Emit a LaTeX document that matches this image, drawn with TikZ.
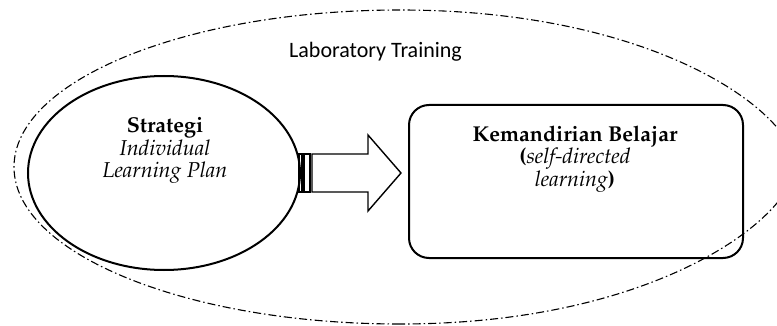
\documentclass[tikz,border=0pt]{standalone}
\usepackage{fontspec}
\usetikzlibrary{shapes.geometric}
\newfontfamily\labfont{Carlito}
\newcommand\palfont{\fontencoding{OT1}\fontfamily{ppl}\selectfont}
\tikzset{
  outerline/.style={line width=1.1pt, dash pattern=on 8pt off 3pt on 1.5pt off 3pt},
  mainline/.style={line width=2pt},
  arrowline/.style={line width=1.4pt, line join=miter},
  serif/.style={font=\palfont\fontsize{21.5}{22}\selectfont, align=center, inner sep=0pt},
}
\begin{document}
\begin{tikzpicture}[x=1pt,y=-1pt]
\useasboundingbox (0,0) rectangle (777,326);
\begin{scope}
\clip (0,0) rectangle (777,326);
\draw[outerline] (400,324) arc[start angle=90, end angle=270, x radius=386, y radius=157]
  .. controls (660,10) and (795,115) .. (795,165)
  .. controls (795,215) and (660,324) .. (400,324) -- cycle;
\end{scope}
% inner ellipse
\node[mainline, draw, ellipse, minimum width=272pt, minimum height=194pt, inner sep=0pt] (strat) at (164,173) {};
\node[serif, anchor=base] (t1) at (165,133) {\bfseries Strategi};
\node[serif, anchor=base] (t2) at (165,156) {\itshape Individual};
\node[serif, anchor=base] (t3) at (165,178) {\itshape Learning Plan};
% striped block arrow
\draw[arrowline] (299,154) rectangle (302,192);
\draw[arrowline] (304,154) rectangle (310,192);
\draw[arrowline] (312,154) -- (368,154) -- (368,135) -- (401,173) -- (368,211) -- (368,192) -- (312,192) -- cycle;
\coordinate (arrtip) at (401,173);
% rounded box
\node[mainline, draw, rounded corners=20pt, minimum width=334pt, minimum height=153pt, inner sep=0pt] (kb) at (576,181.5) {};
\node[serif, anchor=base] (k1) at (575,142) {\bfseries Kemandirian Belajar};
\node[serif, anchor=base] (k2) at (575,164) {\textbf{(}\textit{self-directed}};
\node[serif, anchor=base] (k3) at (575,186) {\textit{learning}\textbf{)}};
% label
\node[font=\labfont\fontsize{22}{24}\selectfont, anchor=base west, inner sep=0pt] (lab) at (289,58) {Laboratory Training};
\end{tikzpicture}
\end{document}
